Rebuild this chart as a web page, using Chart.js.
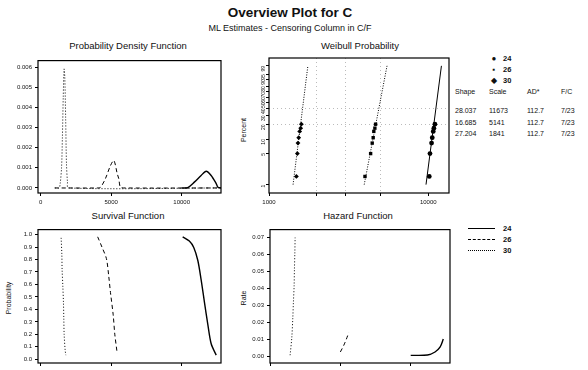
<!DOCTYPE html>
<html>
<head>
<meta charset="utf-8">
<script src="https://cdn.jsdelivr.net/npm/chart.js@4/dist/chart.umd.min.js"></script>
<style>
body{margin:0;width:588px;height:370px;overflow:hidden;background:#fff;position:relative;
  font-family:"Liberation Sans",Arial,sans-serif;color:#111}
.t{position:absolute;white-space:nowrap;transform:translate(-50%,-50%)}
.r{position:absolute;white-space:nowrap;transform:translate(-50%,-50%) rotate(-90deg)}
.l{position:absolute;white-space:nowrap;transform:translateY(-50%)}
canvas{position:absolute}
.ln{position:absolute;width:27px;height:0;border-top:1px solid #000}
</style>
</head>
<body>
<div class="t" style="left:290px;top:12px;font-size:13.5px;font-weight:bold">Overview Plot for C</div>
<div class="t" style="left:290px;top:28px;font-size:9px">ML Estimates - Censoring Column in C/F</div>
<div class="t" style="left:128px;top:45px;font-size:9.5px">Probability Density Function</div>
<div class="t" style="left:360px;top:45px;font-size:9.5px">Weibull Probability</div>
<div class="t" style="left:128px;top:215px;font-size:9.5px">Survival Function</div>
<div class="t" style="left:358px;top:215px;font-size:9.5px">Hazard Function</div>
<div class="r" style="left:243px;top:130px;font-size:7px">Percent</div>
<div class="r" style="left:8px;top:298px;font-size:7px">Probability</div>
<div class="r" style="left:243px;top:298px;font-size:7px">Rate</div>

<canvas id="pdf" width="223" height="155" style="left:0;top:54px"></canvas>
<canvas id="wbl" width="223" height="156" style="left:230px;top:53px"></canvas>
<canvas id="surv" width="223" height="156" style="left:0;top:223px"></canvas>
<canvas id="haz" width="222" height="156" style="left:230px;top:223px"></canvas>

<div id="legend"></div>
<script>
// groups in legend order
const groups = ['24', '26', '30'];
const shape = ['28.037', '16.685', '27.204'];
const scale = ['11673', '5141', '1841'];
const adStat = ['112.7', '112.7', '112.7'];
const failCens = ['7/23', '7/23', '7/23'];

// probability density function
const pdfX24 = [10000, 10430, 10900, 11380, 11740, 12090, 12450, 12570, 12800];
const pdfY24 = [0, 0.00002, 0.00029, 0.00062, 0.00083, 0.00062, 0.00022, 0.00004, 0];
const pdfX26 = [1000, 4000, 4240, 4590, 4950, 5190, 5430, 5540, 5660, 6000, 12800];
const pdfY26 = [0, 0, 0.00003, 0.00046, 0.00111, 0.00136, 0.00071, 0.00046, 0.00004, 0, 0];
const pdfX30 = [1000, 1300, 1380, 1480, 1540, 1600, 1660, 1710, 1770, 1830, 1900, 1970, 12800];
const pdfY30 = [0, 0, 0.0002, 0.0010, 0.0025, 0.0045, 0.0059, 0.0055, 0.0035, 0.0012, 0.0003, 0, 0];

// weibull probability plot (percent)
const plotPos = [1.52, 4.86, 8.2, 10.7, 14.5, 16.9, 20.3];
const fail24 = [10139, 10247, 10484, 10590, 10740, 10844, 11005];
const fail26 = [4004, 4345, 4446, 4509, 4550, 4620, 4667];
const fail30 = [1486, 1507, 1520, 1536, 1558, 1581, 1597];
const fitPct = [1, 99];
const fit24 = [9676, 12093];
const fit26 = [3960, 5508];
const fit30 = [1416, 1754];

// survival function
const survX24 = [10071, 10543, 10857, 11143, 11379, 11614, 11857, 12093, 12450];
const survY24 = [0.982, 0.948, 0.897, 0.794, 0.639, 0.459, 0.278, 0.124, 0.033];
const survX26 = [4043, 4357, 4664, 4829, 4950, 5143, 5257, 5429];
const survY26 = [0.982, 0.897, 0.807, 0.665, 0.536, 0.356, 0.201, 0.046];
const survX30 = [1450, 1500, 1521, 1571, 1614, 1640, 1664, 1736, 1786];
const survY30 = [0.974, 0.845, 0.716, 0.588, 0.459, 0.329, 0.201, 0.072, 0.033];

// hazard function
const hazX24 = [10050, 11255, 11795, 12154, 12390];
const hazY24 = [0.0005, 0.0007, 0.0025, 0.0053, 0.0101];
const hazX26 = [5000, 5238, 5433, 5600];
const hazY26 = [0.0025, 0.0063, 0.0101, 0.0139];
const hazX30 = [1393, 1515, 1587, 1631, 1681, 1703, 1732, 1753];
const hazY30 = [0.0006, 0.011, 0.0226, 0.032, 0.0415, 0.051, 0.0606, 0.070];

// tick labels
const timeTicks = [0, 5000, 10000];
const pdfTicks = [0, 0.001, 0.002, 0.003, 0.004, 0.005, 0.006];
const survTicks = [0, 0.1, 0.2, 0.3, 0.4, 0.5, 0.6, 0.7, 0.8, 0.9, 1.0];
const hazTicks = [0, 0.01, 0.02, 0.03, 0.04, 0.05, 0.06, 0.07];
const pctTicks = [1, 5, 10, 20, 30, 40, 50, 60, 70, 80, 90, 95, 99];
const wblXTicks = [1000, 2000, 3000, 5000, 10000];

const dashes = [[], [4, 3], [1, 2]];
const widths = [1.4, 1, 1];
const marks = ['circle', 'rect', 'rectRot'];

Chart.defaults.font.family = '"Liberation Sans", Arial, sans-serif';
Chart.defaults.font.size = 6;
Chart.defaults.color = '#111';

// Weibull probability scale: linear in ln(-ln(1-p))
const tf = p => Math.log(-Math.log(1 - p / 100));
class WeibullScale extends Chart.Scale {
  determineDataLimits() { this.min = this.options.min; this.max = this.options.max; }
  buildTicks() { return pctTicks.map(v => ({value: v})); }
  getLabelForValue(v) { return String(v); }
  getPixelForValue(v) {
    const a = tf(this.min), b = tf(this.max);
    return this.getPixelForDecimal((tf(v) - a) / (b - a));
  }
  getValueForPixel(px) {
    const a = tf(this.min), b = tf(this.max);
    return 100 * (1 - Math.exp(-Math.exp(a + this.getDecimalForPixel(px) * (b - a))));
  }
}
WeibullScale.id = 'weibull';
WeibullScale.defaults = {};
Chart.register(WeibullScale);

const box = {
  id: 'box',
  afterDraw(chart) {
    const {ctx, chartArea: a} = chart;
    ctx.save();
    ctx.strokeStyle = '#000';
    ctx.lineWidth = 1.2;
    ctx.strokeRect(a.left, a.top, a.right - a.left, a.bottom - a.top);
    ctx.restore();
  }
};

const pts = (xs, ys) => xs.map((x, i) => ({x: x, y: ys[i]}));
const lineSet = (xs, ys, g) => ({
  data: pts(xs, ys), showLine: true, pointRadius: 0, borderColor: '#000',
  borderWidth: widths[g], borderDash: dashes[g], tension: 0.3
});

function axis(min, max, ticks, fmt, size, labels) {
  return {
    type: 'linear', min: min, max: max,
    afterBuildTicks: s => { s.ticks = ticks.map(v => ({value: v})); },
    afterFit: s => { if (s.isHorizontal()) s.height = 16; else s.width = size; },
    border: {display: false},
    grid: {drawOnChartArea: false, tickLength: 3, color: '#000'},
    ticks: {display: labels, autoSkip: false, maxRotation: 0, padding: 3, callback: fmt}
  };
}

function panel(id, datasets, x, y) {
  new Chart(document.getElementById(id), {
    type: 'scatter',
    data: {datasets: datasets},
    options: {
      responsive: false, animation: false, devicePixelRatio: 1,
      layout: {padding: {top: 2, right: 2, left: 0, bottom: 0}},
      plugins: {legend: {display: false}, tooltip: {enabled: false}},
      scales: {x: x, y: y}
    },
    plugins: [box]
  });
}

panel('pdf', [
  lineSet(pdfX24, pdfY24, 0), lineSet(pdfX26, pdfY26, 1), lineSet(pdfX30, pdfY30, 2)
], axis(-190, 12790, timeTicks, v => String(v), 0, true),
   axis(-0.00025, 0.00632, pdfTicks, v => v.toFixed(3), 38, true));

panel('surv', [
  lineSet(survX24, survY24, 0), lineSet(survX26, survY26, 1), lineSet(survX30, survY30, 2)
], axis(-190, 12790, timeTicks, v => String(v), 0, false),
   axis(-0.03, 1.04, survTicks, v => v.toFixed(1), 38, true));

panel('haz', [
  lineSet(hazX24, hazY24, 0), lineSet(hazX26, hazY26, 1), lineSet(hazX30, hazY30, 2)
], axis(-50, 12870, timeTicks, v => String(v), 0, false),
   axis(-0.004, 0.0747, hazTicks, v => v.toFixed(2), 40, true));

const fails = [fail24, fail26, fail30];
const fits = [fit24, fit26, fit30];
const wblSets = [];
groups.forEach((g, i) => {
  wblSets.push({data: pts(fits[i], fitPct), showLine: true, pointRadius: 0, borderColor: '#000',
    borderWidth: 1, borderDash: i === 0 ? [] : [1, 1.5]});
  wblSets.push({data: pts(fails[i], plotPos), showLine: false, pointStyle: marks[i],
    pointRadius: 2.4, backgroundColor: '#000', borderColor: '#000', borderWidth: 0});
});
panel('wbl', wblSets, {
  type: 'logarithmic', min: 1000, max: 13490,
  afterBuildTicks: s => { s.ticks = wblXTicks.map(v => ({value: v})); },
  afterFit: s => { s.height = 16; },
  border: {display: false, dash: [1, 3]},
  grid: {tickLength: 3, color: c => (c.tick && (c.tick.value === 1000 || c.tick.value === 10000)) ? 'rgba(0,0,0,0)' : '#bbb',
    tickColor: '#000'},
  ticks: {autoSkip: false, maxRotation: 0, padding: 3,
    callback: v => (v === 1000 || v === 10000) ? String(v) : ''}
}, {
  type: 'weibull', min: 0.65, max: 99.9,
  afterFit: s => { s.width = 39; },
  border: {display: false, dash: [1, 3]},
  grid: {tickLength: 3, color: c => (c.tick && (c.tick.value === 20 || c.tick.value === 40)) ? '#bbb' : 'rgba(0,0,0,0)',
    tickColor: '#000'},
  ticks: {autoSkip: false, minRotation: 90, maxRotation: 90, padding: 2, font: {size: 5}, callback: v => String(v)}
});

// legends and table
const leg = document.getElementById('legend');
let html = '';
const glyph = ['\u25CF', '\u25AA', '\u25C6'];
groups.forEach((g, i) => {
  const y = 58 + i * 11;
  html += '<div class="t" style="left:494px;top:' + y + 'px;font-size:8px">' + glyph[i] + '</div>';
  html += '<div class="l" style="left:503px;top:' + y + 'px;font-size:7.5px;font-weight:bold">' + g + '</div>';
  const ry = 110 + i * 11.5;
  html += '<div class="l" style="left:455px;top:' + ry + 'px;font-size:7px">' + shape[i] + '</div>';
  html += '<div class="l" style="left:489px;top:' + ry + 'px;font-size:7px">' + scale[i] + '</div>';
  html += '<div class="l" style="left:527px;top:' + ry + 'px;font-size:7px">' + adStat[i] + '</div>';
  html += '<div class="l" style="left:561px;top:' + ry + 'px;font-size:7px">' + failCens[i] + '</div>';
  const ly = 228 + i * 11;
  const st = ['solid', 'dashed', 'dotted'][i];
  html += '<div class="ln" style="left:468px;top:' + ly + 'px;border-top-style:' + st + '"></div>';
  html += '<div class="l" style="left:503px;top:' + ly + 'px;font-size:7.5px;font-weight:bold">' + g + '</div>';
});
html += '<div class="l" style="left:455px;top:91px;font-size:7px">Shape</div>';
html += '<div class="l" style="left:489px;top:91px;font-size:7px">Scale</div>';
html += '<div class="l" style="left:527px;top:91px;font-size:7px">AD*</div>';
html += '<div class="l" style="left:561px;top:91px;font-size:7px">F/C</div>';
leg.innerHTML = html;
</script>
</body>
</html>
